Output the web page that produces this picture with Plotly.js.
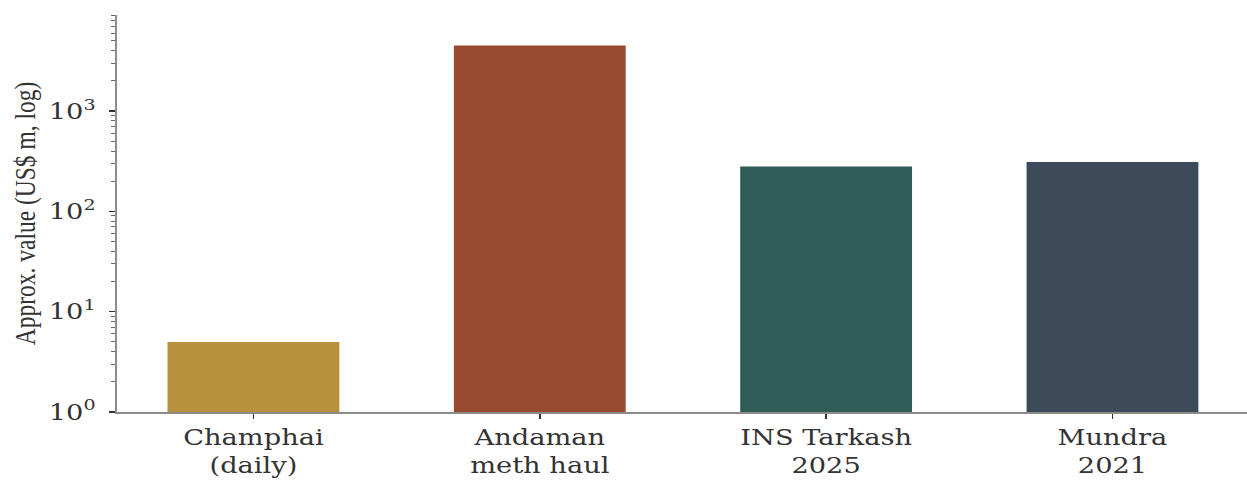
<!DOCTYPE html>
<html>
<head>
<meta charset="utf-8">
<script src="https://cdn.plot.ly/plotly-3.0.1.min.js"></script>
<style>
  html, body { margin: 0; padding: 0; background: #fff; overflow: hidden; width: 1247px; height: 481px; }
  #wrap { width: 1008px; height: 481px; transform: scaleX(1.24); transform-origin: 0 0; }
  #chart { width: 1008px; height: 481px; }
</style>
</head>
<body>
<div id="wrap"><div id="chart"></div></div>
<script>
// Data
const categories = ["Champhai<br>(daily)", "Andaman<br>meth haul", "INS Tarkash<br>2025", "Mundra<br>2021"];
const values = [5, 4500, 280, 310];
const barColors = ["#b7913d", "#994a2e", "#2e5d57", "#3c4a5a"];
const yTickVals = [1, 10, 100, 1000];
const yTickText = ["10<sup>0</sup>", "10<sup>1</sup>", "10<sup>2</sup>", "10<sup>3</sup>"];
const yTitle = "Approx. value (US$ m, log)";

const tickFont = "DejaVu Serif, serif";
const titleFont = "Liberation Serif, Times New Roman, serif";

const trace = {
  type: "bar",
  x: categories.map((c, i) => i),
  y: values,
  width: 0.6,
  marker: { color: barColors, line: { width: 0 } },
  hoverinfo: "x+y"
};

const layout = {
  width: 1008,
  height: 481,
  margin: { l: 94, r: 0, t: 15, b: 69 },
  paper_bgcolor: "#ffffff",
  plot_bgcolor: "#ffffff",
  showlegend: false,
  font: { family: tickFont, color: "#333333", size: 22 },
  xaxis: {
    range: [-0.478, 3.48],
    tickmode: "array",
    tickvals: [0, 1, 2, 3],
    ticktext: categories,
    ticks: "outside",
    ticklen: 5,
    tickwidth: 1.2,
    tickcolor: "#333333",
    showline: true,
    linecolor: "#8c8c8c",
    linewidth: 1.5,
    showgrid: false,
    zeroline: false,
    tickfont: { family: tickFont, size: 22, color: "#333333" },
    fixedrange: true
  },
  yaxis: {
    type: "log",
    range: [0, 3.958],
    tickmode: "array",
    tickvals: yTickVals,
    ticktext: yTickText,
    ticks: "outside",
    ticklen: 5,
    tickwidth: 1.2,
    tickcolor: "#333333",
    ticklabelstandoff: 6,
    minor: { ticks: "outside", ticklen: 3, tickwidth: 0.8, tickcolor: "#555555", dtick: "D1", showgrid: false },
    showline: true,
    linecolor: "#8c8c8c",
    linewidth: 1.5,
    showgrid: false,
    zeroline: false,
    tickfont: { family: tickFont, size: 22, color: "#333333" },
    title: { text: yTitle, font: { family: titleFont, size: 23.5, color: "#333333" }, standoff: 4 },
    automargin: false,
    fixedrange: true
  },
  bargap: 0.4
};

Plotly.newPlot("chart", [trace], layout, { displayModeBar: false, staticPlot: true });
</script>
</body>
</html>
